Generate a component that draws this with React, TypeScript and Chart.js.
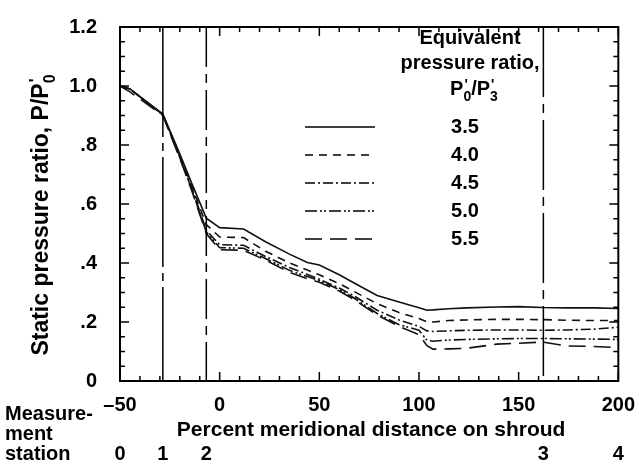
import React, { useEffect, useRef } from "react";
import { Chart, registerables } from "chart.js";

Chart.register(...registerables);

// ---------- data ----------
const xValues = [-50, -45, -28.5, -20, -14, -6.7, 0, 12, 23, 35, 44, 50, 60, 67, 79, 90, 100, 104, 107, 115, 124, 139, 150, 162, 174, 188, 200];
const ratio35 = [1.0, 0.99, 0.905, 0.77, 0.67, 0.552, 0.52, 0.515, 0.472, 0.43, 0.402, 0.393, 0.36, 0.334, 0.29, 0.268, 0.248, 0.24, 0.241, 0.245, 0.248, 0.251, 0.252, 0.249, 0.248, 0.248, 0.246];
const ratio40 = [1.0, 0.99, 0.903, 0.765, 0.66, 0.53, 0.488, 0.486, 0.44, 0.4, 0.376, 0.36, 0.33, 0.305, 0.262, 0.232, 0.212, 0.2, 0.2, 0.205, 0.207, 0.209, 0.209, 0.208, 0.206, 0.205, 0.205];
const ratio45 = [1.0, 0.99, 0.903, 0.76, 0.655, 0.51, 0.462, 0.46, 0.422, 0.385, 0.361, 0.345, 0.315, 0.29, 0.24, 0.207, 0.185, 0.17, 0.168, 0.17, 0.172, 0.173, 0.173, 0.172, 0.173, 0.176, 0.182];
const ratio50 = [1.0, 0.99, 0.902, 0.758, 0.65, 0.505, 0.452, 0.45, 0.415, 0.375, 0.354, 0.34, 0.31, 0.283, 0.229, 0.191, 0.172, 0.138, 0.135, 0.139, 0.141, 0.143, 0.144, 0.144, 0.143, 0.142, 0.141];
const ratio55 = [1.0, 0.98, 0.9, 0.755, 0.645, 0.5, 0.445, 0.443, 0.41, 0.368, 0.347, 0.335, 0.305, 0.278, 0.224, 0.185, 0.157, 0.12, 0.108, 0.109, 0.111, 0.125, 0.128, 0.132, 0.119, 0.117, 0.113];
const seriesValues = [ratio35, ratio40, ratio45, ratio50, ratio55];
const seriesLabels = ["3.5", "4.0", "4.5", "5.0", "5.5"];

const stationNames = ["0", "1", "2", "3", "4"];
const stationX = [-50, -28.5, -6.7, 162.4, 200];
const refLineX = [-28.5, -6.7, 162.4];

const xMin = -50, xMax = 200, xStep = 50, xMinorStep = 10;
const yMin = 0, yMax = 1.2, yStep = 0.2, yMinorStep = 0.05;

// ---------- styles ----------
const FONT = '"Liberation Sans"';
const W = "bold";
const dashes: number[][] = [[], [8, 6], [10, 3, 2, 3], [12, 3, 2, 2, 2, 3], [17, 8]];
const refDashes: number[][] = [[110, 6, 8, 6], [40, 7, 9, 7], [70, 7, 9, 7]];

type Seg = { t: string; sup?: string; sub?: string };

function richWidth(ctx: CanvasRenderingContext2D, segs: Seg[], size: number) {
  let w = 0;
  for (const s of segs) {
    ctx.font = `${W} ${size}px ${FONT}`;
    w += ctx.measureText(s.t).width;
    if (s.sup || s.sub) {
      ctx.font = `${W} ${Math.round(size * 0.68)}px ${FONT}`;
      w += Math.max(s.sup ? ctx.measureText(s.sup).width : 0, s.sub ? ctx.measureText(s.sub).width : 0);
    }
  }
  return w;
}

function drawRich(ctx: CanvasRenderingContext2D, segs: Seg[], cx: number, baseline: number, size: number) {
  const total = richWidth(ctx, segs, size);
  let x = cx - total / 2;
  ctx.textAlign = "left";
  ctx.textBaseline = "alphabetic";
  for (const s of segs) {
    ctx.font = `${W} ${size}px ${FONT}`;
    ctx.fillText(s.t, x, baseline);
    x += ctx.measureText(s.t).width;
    if (s.sup || s.sub) {
      const small = Math.round(size * 0.68);
      ctx.font = `${W} ${small}px ${FONT}`;
      let w = 0;
      if (s.sup) {
        ctx.fillText(s.sup, x + 1, baseline - size * 0.32);
        w = Math.max(w, ctx.measureText(s.sup).width);
      }
      if (s.sub) {
        ctx.fillText(s.sub, x, baseline + size * 0.3);
        w = Math.max(w, ctx.measureText(s.sub).width);
      }
      x += w;
    }
  }
}

const decorPlugin = {
  id: "decor",
  afterDatasetsDraw(chart: any) {
    const { ctx, chartArea: a, scales } = chart;
    const xs = scales.x;
    const ys = scales.y;
    ctx.save();
    ctx.strokeStyle = "#000";
    ctx.fillStyle = "#000";

    // reference (station) lines
    ctx.lineWidth = 1.5;
    refLineX.forEach((v, i) => {
      const px = xs.getPixelForValue(v);
      ctx.setLineDash(refDashes[i]);
      ctx.beginPath();
      ctx.moveTo(px, a.top);
      ctx.lineTo(px, a.bottom);
      ctx.stroke();
    });
    ctx.setLineDash([]);

    // frame
    ctx.lineWidth = 2;
    ctx.strokeRect(a.left, a.top, a.right - a.left, a.bottom - a.top);

    // inward ticks
    ctx.lineWidth = 1.5;
    const nX = Math.round((xMax - xMin) / xMinorStep);
    for (let i = 0; i <= nX; i++) {
      const v = xMin + i * xMinorStep;
      const px = xs.getPixelForValue(v);
      const len = (v - xMin) % xStep === 0 ? 9 : 5;
      ctx.beginPath();
      ctx.moveTo(px, a.bottom);
      ctx.lineTo(px, a.bottom - len);
      ctx.moveTo(px, a.top);
      ctx.lineTo(px, a.top + len);
      ctx.stroke();
    }
    const nY = Math.round((yMax - yMin) / yMinorStep);
    const per = Math.round(yStep / yMinorStep);
    for (let i = 0; i <= nY; i++) {
      const v = yMin + i * yMinorStep;
      const py = ys.getPixelForValue(v);
      const len = i % per === 0 ? 9 : 5;
      ctx.beginPath();
      ctx.moveTo(a.left, py);
      ctx.lineTo(a.left + len, py);
      ctx.moveTo(a.right, py);
      ctx.lineTo(a.right - len, py);
      ctx.stroke();
    }

    // legend
    ctx.textAlign = "center";
    ctx.textBaseline = "middle";
    ctx.font = `${W} 20px ${FONT}`;
    ctx.fillText("Equivalent", 470, 38);
    ctx.fillText("pressure ratio,", 470, 63);
    drawRich(ctx, [{ t: "P", sup: "'", sub: "0" }, { t: "/" }, { t: "P", sup: "'", sub: "3" }], 474, 95, 20);
    seriesLabels.forEach((lab, i) => {
      const ly = 127 + i * 28;
      ctx.lineWidth = 1.6;
      ctx.setLineDash(dashes[i]);
      ctx.beginPath();
      ctx.moveTo(305, ly);
      ctx.lineTo(375, ly);
      ctx.stroke();
      ctx.setLineDash([]);
      ctx.font = `${W} 20px ${FONT}`;
      ctx.textAlign = "center";
      ctx.textBaseline = "middle";
      ctx.fillText(lab, 465, ly);
    });

    // y-axis title (rotated)
    ctx.save();
    ctx.translate(40, 215);
    ctx.rotate(-Math.PI / 2);
    drawRich(ctx, [{ t: "Static pressure ratio, P/P", sup: "'", sub: "0" }], 0, 8, 23);
    ctx.restore();

    // x-axis title
    ctx.font = `${W} 21px ${FONT}`;
    ctx.textAlign = "center";
    ctx.textBaseline = "middle";
    ctx.fillText("Percent meridional distance on shroud", (a.left + a.right) / 2 + 2, 430);

    // measurement station row
    ctx.textAlign = "left";
    ctx.font = `${W} 20px ${FONT}`;
    ctx.fillText("Measure-", 5, 414);
    ctx.fillText("ment", 5, 434);
    ctx.fillText("station", 5, 454);
    ctx.textAlign = "center";
    stationNames.forEach((s, i) => {
      ctx.fillText(s, xs.getPixelForValue(stationX[i]), 454);
    });

    ctx.restore();
  },
};

function fmtY(v: number) {
  const r = Math.round(v * 10) / 10;
  if (r === 0) return "0";
  if (r >= 1) return r.toFixed(1);
  return "." + Math.round(r * 10);
}

function fmtX(v: number) {
  return v < 0 ? "\u2013" + Math.abs(v) : String(v);
}

export default function App() {
  const ref = useRef<HTMLCanvasElement | null>(null);
  useEffect(() => {
    if (!ref.current) return;
    Chart.defaults.font.family = FONT;
    Chart.defaults.color = "#000";
    const datasets = seriesValues.map((vals, i) => ({
      label: seriesLabels[i],
      data: xValues.map((x, j) => ({ x, y: vals[j] })),
      borderColor: "#111",
      borderWidth: 1.6,
      borderDash: dashes[i],
      pointRadius: 0,
      fill: false,
      tension: 0,
    }));
    const chart = new Chart(ref.current, {
      type: "line",
      data: { datasets },
      options: {
        responsive: false,
        animation: false,
        devicePixelRatio: 1,
        layout: { padding: { top: 18, right: 20, left: 0, bottom: 0 } },
        plugins: { legend: { display: false }, tooltip: { enabled: false } },
        scales: {
          x: {
            type: "linear",
            min: xMin,
            max: xMax,
            grid: { display: false },
            border: { display: false },
            ticks: { stepSize: xStep, padding: 4, font: { size: 20, weight: "bold" }, color: "#000", maxRotation: 0, callback: (v: any) => fmtX(Number(v)) },
            afterFit: (s: any) => { s.height = 85; },
          },
          y: {
            type: "linear",
            min: yMin,
            max: yMax,
            grid: { display: false },
            border: { display: false },
            ticks: { stepSize: yStep, padding: 15, font: { size: 20, weight: "bold" }, color: "#000", callback: (v: any) => fmtY(Number(v)) },
            afterFit: (s: any) => { s.width = 120; },
          },
        },
      },
      plugins: [decorPlugin],
    } as any);
    return () => chart.destroy();
  }, []);
  return (
    <div style={{ position: "absolute", left: 0, top: 0, width: 639, height: 466, background: "#fff" }}>
      <canvas ref={ref} width={639} height={466} style={{ display: "block" }} />
    </div>
  );
}
